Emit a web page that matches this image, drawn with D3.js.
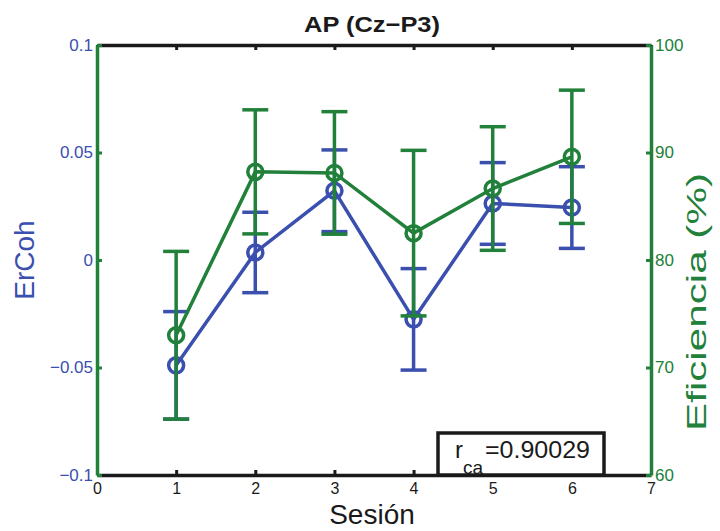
<!DOCTYPE html>
<html>
<head>
<meta charset="utf-8">
<script src="https://cdn.jsdelivr.net/npm/d3@7"></script>
<style>
  body { margin: 0; background: #fff; }
  svg { font-family: Arial, "Liberation Sans", sans-serif; }
</style>
</head>
<body>
<svg id="canvas" width="720" height="531"></svg>
<script>
let sessions = [1, 2, 3, 4, 5, 6]
let ercoh = [-0.049, 0.0035, 0.0322, -0.0276, 0.0263, 0.0244]
let ercohErr = [0.025, 0.0187, 0.019, 0.0236, 0.019, 0.019]
let eficiencia = [73.0, 88.2, 88.1, 82.5, 86.65, 89.6]
let eficienciaErr = [7.8, 5.77, 5.7, 7.7, 5.75, 6.2]

let xTicks = [0, 1, 2, 3, 4, 5, 6, 7]
let leftTicks = [-0.1, -0.05, 0, 0.05, 0.1]
let rightTicks = [60, 70, 80, 90, 100]

let blue = '#3a4fae'
let green = '#21803a'

let canvas = d3.select('#canvas')

let x = d3.scaleLinear().domain([0, 7]).range([97, 651])
let yL = d3.scaleLinear().domain([-0.1, 0.1]).range([475, 45])
let yR = d3.scaleLinear().domain([60, 100]).range([475, 45])

// axes
let styleAxis = (g, color, textColor, size) => {
    g.select('.domain').attr('stroke', color).attr('stroke-width', 3.5)
    g.selectAll('.tick line').attr('stroke', color).attr('stroke-width', 3)
    g.selectAll('.tick text').attr('fill', textColor).style('font-size', size + 'px')
}

canvas.append('g')
    .attr('transform', 'translate(0,475)')
    .call(d3.axisBottom(x).tickValues(xTicks).tickSizeInner(-5).tickSizeOuter(0).tickPadding(8).tickFormat(d3.format('d')))
    .call(g => styleAxis(g, '#1a1a1a', '#1a1a1a', 16))

canvas.append('g')
    .attr('transform', 'translate(0,45)')
    .call(d3.axisTop(x).tickValues(xTicks).tickSizeInner(-5).tickSizeOuter(0).tickFormat(''))
    .call(g => styleAxis(g, '#1a1a1a', '#1a1a1a', 16))

canvas.append('g')
    .attr('transform', 'translate(97,0)')
    .call(d3.axisLeft(yL).tickValues(leftTicks).tickSizeInner(-5).tickSizeOuter(0).tickPadding(4).tickFormat(d3.format('')))
    .call(g => styleAxis(g, green, blue, 17))

canvas.append('g')
    .attr('transform', 'translate(651,0)')
    .call(d3.axisRight(yR).tickValues(rightTicks).tickSizeInner(-5).tickSizeOuter(0).tickPadding(4))
    .call(g => styleAxis(g, green, green, 17))

// one series: line, error bars, circle markers
let drawSeries = (values, errs, y, color) => {
    let data = sessions.map((s, i) => ({ s: s, v: values[i], e: errs[i] }))
    let g = canvas.append('g')

    g.append('path')
        .datum(data)
        .attr('fill', 'none')
        .attr('stroke', color)
        .attr('stroke-width', 3.5)
        .attr('d', d3.line().x(d => x(d.s)).y(d => y(d.v)))

    let bars = g.selectAll('.err').data(data).enter().append('g').attr('class', 'err')
    bars.append('line')
        .attr('x1', d => x(d.s)).attr('x2', d => x(d.s))
        .attr('y1', d => y(d.v - d.e)).attr('y2', d => y(d.v + d.e))
        .attr('stroke', color).attr('stroke-width', 3.5)
    bars.append('line')
        .attr('x1', d => x(d.s) - 13).attr('x2', d => x(d.s) + 13)
        .attr('y1', d => y(d.v + d.e)).attr('y2', d => y(d.v + d.e))
        .attr('stroke', color).attr('stroke-width', 3.5)
    bars.append('line')
        .attr('x1', d => x(d.s) - 13).attr('x2', d => x(d.s) + 13)
        .attr('y1', d => y(d.v - d.e)).attr('y2', d => y(d.v - d.e))
        .attr('stroke', color).attr('stroke-width', 3.5)

    g.selectAll('circle').data(data).enter().append('circle')
        .attr('cx', d => x(d.s)).attr('cy', d => y(d.v))
        .attr('r', 7.5)
        .attr('fill', 'none')
        .attr('stroke', color)
        .attr('stroke-width', 3.5)
}

drawSeries(ercoh, ercohErr, yL, blue)
drawSeries(eficiencia, eficienciaErr, yR, green)

// texts
canvas.append('text')
    .attr('x', 372).attr('y', 32)
    .attr('text-anchor', 'middle')
    .style('font-size', '22px').style('font-weight', 'bold')
    .attr('fill', '#1a1a1a')
    .attr('textLength', 136).attr('lengthAdjust', 'spacingAndGlyphs')
    .text('AP (Cz\u2212P3)')

canvas.append('text')
    .attr('transform', 'translate(34,260) rotate(-90)')
    .attr('text-anchor', 'middle')
    .style('font-size', '28px')
    .attr('fill', blue)
    .text('ErCoh')

canvas.append('text')
    .attr('transform', 'translate(706,302) rotate(-90)')
    .attr('text-anchor', 'middle')
    .style('font-size', '27px')
    .attr('fill', green)
    .attr('textLength', 258).attr('lengthAdjust', 'spacingAndGlyphs')
    .text('Eficiencia (%)')

canvas.append('text')
    .attr('x', 372).attr('y', 524)
    .attr('text-anchor', 'middle')
    .style('font-size', '28px')
    .attr('fill', '#1a1a1a')
    .text('Sesión')

// legend box with correlation
canvas.append('rect')
    .attr('x', 438).attr('y', 433)
    .attr('width', 166).attr('height', 42)
    .attr('fill', '#fff')
    .attr('stroke', '#1a1a1a')
    .attr('stroke-width', 3.5)

canvas.append('text')
    .attr('x', 455).attr('y', 458)
    .style('font-size', '24px')
    .attr('fill', '#1a1a1a')
    .text('r')

canvas.append('text')
    .attr('x', 463).attr('y', 474)
    .style('font-size', '19px')
    .attr('fill', '#1a1a1a')
    .text('ca')

canvas.append('text')
    .attr('x', 485).attr('y', 458)
    .style('font-size', '23px')
    .attr('fill', '#1a1a1a')
    .attr('textLength', 105).attr('lengthAdjust', 'spacingAndGlyphs')
    .text('=0.90029')
</script>
</body>
</html>
